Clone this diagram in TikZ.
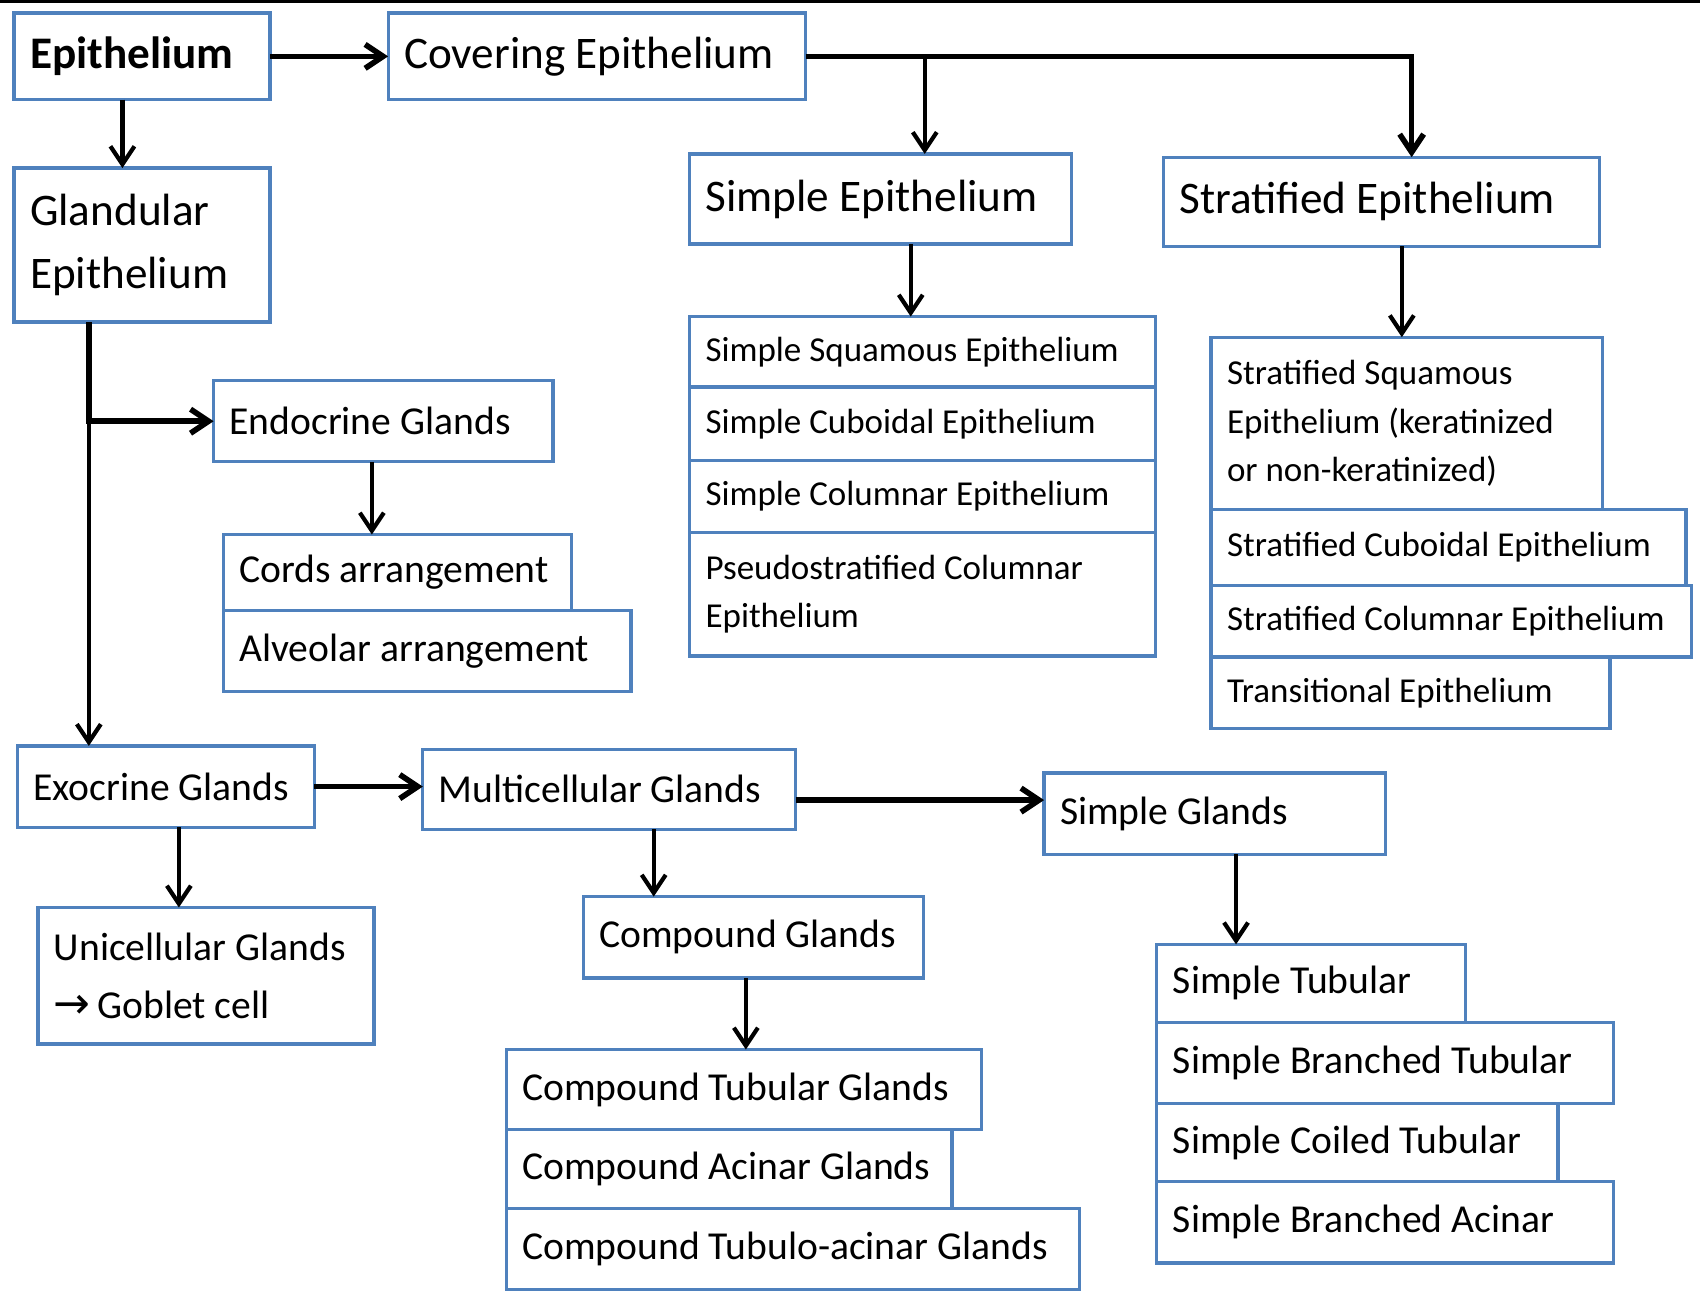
\documentclass[tikz,border=0pt]{standalone}
\usepackage{fontspec}
\setmainfont{Carlito}
\newfontfamily\symfont{DejaVu Sans}
\usetikzlibrary{arrows.meta,positioning}
\definecolor{boxblue}{RGB}{79,129,189}
\def\pxu{0.5421pt}
\tikzstyle{box} = [draw=boxblue, line width=1.6pt, fill=white, anchor=north west, align=flush left, inner xsep=8pt, inner ysep=0pt, outer sep=0pt]
\tikzstyle{tissue} = [box, font=\fontsize{22.6}{31.5}\selectfont]
\tikzstyle{gland} = [box, font=\fontsize{19.8}{28.7}\selectfont]
\tikzstyle{epitype} = [box, font=\fontsize{17.5}{24.4}\selectfont]
\tikzstyle{arrow} = [draw, line width=2.1pt, -{Straight Barb[length=9pt,width=12pt]}]
\tikzstyle{harrow} = [draw, line width=2.8pt, -{Straight Barb[length=9pt,width=12pt]}]
\tikzset{boxsize/.style 2 args={minimum width=#1*\pxu, minimum height=#2*\pxu, text width=#1*\pxu-16pt}}
\newcommand{\tissue}[4]{node (t#1) [tissue, boxsize={#2}{#3}] {#4}}
\newcommand{\gland}[4]{node (g#1) [gland, boxsize={#2}{#3}] {#4}}
\newcommand{\epitype}[4]{node (e#1) [epitype, boxsize={#2}{#3}] {#4}}

\begin{document}
\begin{tikzpicture}[x=0.5421pt,y=-0.5421pt]
\useasboundingbox (0,0) rectangle (1568,1190);
\fill[black] (0,0) rectangle (1568,3);

% Covering epithelium
\path (13,12) \tissue{1}{236}{80}{\textbf{Epithelium}};
\path (358,12) \tissue{2}{385}{80}{Covering Epithelium};
\path (13,155) \tissue{3}{236}{142}{Glandular\\Epithelium};
\path (636,142) \tissue{4}{352}{83}{Simple Epithelium};
\path (1073,145) \tissue{5}{402}{82}{Stratified Epithelium};
\path [harrow] (t1.east) -- (t2.west);
\path [arrow] ([xshift=-9.8pt]t1.south) -- ([xshift=-9.8pt]t3.north);
\path [harrow] (t2.east) -| ([xshift=15.2pt]t5.north);
\path [arrow] ([xshift=22.2pt]t4.north |- t2.east) -- ([xshift=22.2pt]t4.north);

\path (636,292) \epitype{1}{430}{65}{Simple Squamous Epithelium};
\path (e1.south west) \epitype{2}{430}{68}{Simple Cuboidal Epithelium};
\path (e2.south west) \epitype{3}{430}{66}{Simple Columnar Epithelium};
\path (e3.south west) \epitype{4}{430}{114}{Pseudostratified Columnar\\Epithelium};
\path [arrow] ([xshift=15.2pt]t4.south) -- ([xshift=15.2pt]t4.south |- e1.north);

\path (1117,311) \epitype{5}{361}{159}{Stratified Squamous\\Epithelium (keratinized\\or non-keratinized)};
\path (e5.south west) \epitype{6}{438}{70}{Stratified Cuboidal Epithelium};
\path (e6.south west) \epitype{7}{443}{66}{Stratified Columnar Epithelium};
\path (e7.south west) \epitype{8}{368}{66}{Transitional Epithelium};
\path [arrow] ([xshift=10.3pt]t5.south) -- ([xshift=10.3pt]t5.south |- e5.north);

% Glandular epithelium
\path (197,351) \gland{1}{313}{75}{Endocrine Glands};
\path (206,493) \gland{2}{321}{70}{Cords arrangement};
\path (g2.south west) \gland{3}{376}{75}{Alveolar arrangement};
\path [arrow] ([xshift=-5.7pt]g1.south) -- ([xshift=-5.7pt]g1.south |- g2.north);

\path (16,688) \gland{4}{274}{75}{Exocrine Glands};
\path (390,691) \gland{5}{344}{74}{Multicellular Glands};
\path (963,713) \gland{6}{315}{75}{Simple Glands};
\path (35,837) \gland{7}{310}{126}{Unicellular Glands\\{\symfont\fontsize{22}{20}\selectfont →}\,Goblet cell};
\path [harrow] ([xshift=-26.6pt]t3.south) |- (g1.west);
\path [arrow] ([xshift=-26.6pt]t3.south) -- ([xshift=-26.6pt]t3.south |- g4.north);
\path [harrow] (g4.east) -- (g4.east -| g5.west);
\path [harrow] ([yshift=-5.4pt]g5.east) -- ([yshift=-5.4pt]g5.east -| g6.west);
\path [arrow] ([xshift=6.5pt]g4.south) -- ([xshift=6.5pt]g4.south |- g7.north);

\path (538,827) \gland{8}{314}{75}{Compound Glands};
\path (467,968) \gland{9}{438}{74}{Compound Tubular Glands};
\path (g9.south west) \gland{10}{411}{73}{Compound Acinar Glands};
\path (g10.south west) \gland{11}{529}{74}{Compound Tubulo-acinar Glands};
\path [arrow] ([xshift=22.2pt]g5.south) -- ([xshift=22.2pt]g5.south |- g8.north);
\path [arrow] ([xshift=-3.8pt]g8.south) -- ([xshift=-3.8pt]g8.south |- g9.north);

\path (1067,871) \gland{12}{285}{72}{Simple Tubular};
\path (g12.south west) \gland{13}{421}{75}{Simple Branched Tubular};
\path (g13.south west) \gland{14}{370}{72}{Simple Coiled Tubular};
\path (g14.south west) \gland{15}{421}{75}{Simple Branched Acinar};
\path [arrow] ([xshift=10.6pt]g6.south) -- ([xshift=10.6pt]g6.south |- g12.north);
\end{tikzpicture}
\end{document}
